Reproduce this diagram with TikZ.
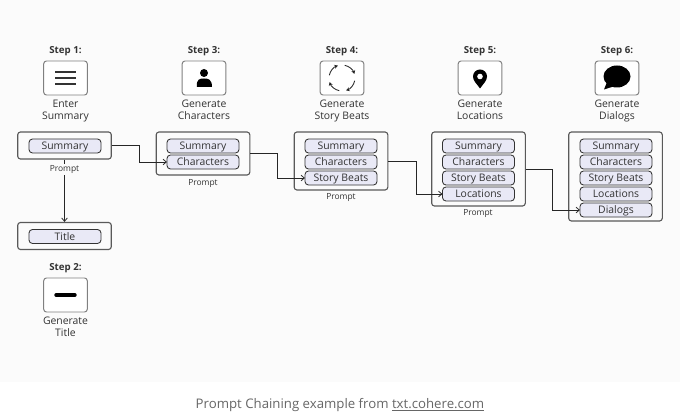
\documentclass[tikz,border=0pt]{standalone}
\usepackage{fontspec}
\setmainfont{Open Sans}
\usepackage{tikz}
\usetikzlibrary{arrows.meta,positioning,calc}
\usepackage{xcolor}
\definecolor{panelbg}{HTML}{FBFBFB}
\definecolor{pillfill}{HTML}{E9E9F6}
\definecolor{inkdark}{HTML}{333333}
\tikzset{
  stepname/.style={font=\fontsize{6.9}{8.6}\selectfont\bfseries, text=inkdark, inner sep=0pt, anchor=base},
  stepdesc/.style={font=\fontsize{7.4}{8.9}\selectfont, text=inkdark, align=center, inner sep=0pt, anchor=north},
  iconbox/.style={draw=black!50, fill=white, rounded corners=2pt, line width=0.7pt, minimum width=1.09cm, minimum height=0.85cm, inner sep=0pt},
  promptbox/.style={draw=black!65, rounded corners=2pt, line width=0.8pt, minimum width=2.34cm, inner sep=0pt},
  pill/.style={draw=inkdark, fill=pillfill, rounded corners=2.5pt, line width=0.6pt, minimum width=1.8cm, minimum height=0.35cm, inner sep=0pt, outer sep=0pt, text height=5.3pt, text depth=0pt, font=\fontsize{7.4}{8.6}\selectfont, text=inkdark},
  pillnext/.style={pill, below=0.05cm of #1},
  promptlabel/.style={font=\fontsize{6}{7}\selectfont, text=inkdark, fill=panelbg, inner sep=1pt, text height=4.4pt, text depth=1.3pt},
  chainarrow/.style={-{Straight Barb[length=2.4pt,width=4pt]}, line width=0.55pt, black!85},
}
\begin{document}
\begin{tikzpicture}[x=0.025cm,y=-0.025cm]
  \useasboundingbox (0,0) rectangle (680,413);
  \fill[panelbg] (0,0) rectangle (680,382);

  % step headers
  \node[stepname] (n1) at (65.5,53.5) {Step 1:};
  \node[stepname] (n3) at (204,53.5) {Step 3:};
  \node[stepname] (n4) at (342,53.5) {Step 4:};
  \node[stepname] (n5) at (480,53.5) {Step 5:};
  \node[stepname] (n6) at (617,53.5) {Step 6:};
  \node[stepname] (n2) at (65.5,270.5) {Step 2:};

  \node[iconbox] (i1) at (65.5,78) {};
  \node[iconbox] (i3) at (204,78) {};
  \node[iconbox] (i4) at (342,78) {};
  \node[iconbox] (i5) at (480,78) {};
  \node[iconbox] (i6) at (617,78) {};
  \node[iconbox] (i2) at (65.5,295) {};

  \node[stepdesc] (d1) at (65.5,99.5) {Enter\\Summary};
  \node[stepdesc] (d3) at (204,99.5) {Generate\\Characters};
  \node[stepdesc] (d4) at (342,99.5) {Generate\\Story Beats};
  \node[stepdesc] (d5) at (480,99.5) {Generate\\Locations};
  \node[stepdesc] (d6) at (617,99.5) {Generate\\Dialogs};
  \node[stepdesc] (d2) at (65.5,316.5) {Generate\\Title};

  % icons
  \foreach \y in {72,78,84}
    \draw[line width=0.8pt, black!80] (55,\y) -- (76,\y);
  \fill[black] (204,73) circle (4);
  \fill[black] (197,87) .. controls (196,79) and (200,78.5) .. (204,78.5)
    .. controls (208,78.5) and (212,79) .. (212,87) -- cycle;
  \draw[line width=2.4pt, black, line cap=round] (56,295) -- (75,295);
  \foreach \a in {0,90,180,270}
    \draw[-{Stealth[length=2.6pt,width=2.8pt]}, line width=0.6pt, black!85]
      ($(342,78)+(\a+12:13)$) arc[start angle=\a+12, end angle=\a+72, radius=13];
  \fill[black] (480,88.5) .. controls (477,84) and (473,81) .. (473,76.5)
    arc[start angle=180, end angle=0, radius=0.175cm]
    .. controls (487,81) and (483,84) .. (480,88.5) -- cycle;
  \fill[white] (480,76.5) circle (2.8);
  \fill[black] (617,76.5) ellipse[x radius=13.5, y radius=11];
  \fill[black] (607,82) -- (604,89.5) -- (615,86) -- cycle;

  % prompts
  \node[promptbox, minimum height=0.675cm] (b1) at (64.5,145.5) {};
  \node[pill] (s1a) at (65,146) {Summary};

  \node[promptbox, minimum height=0.675cm] (b2) at (64.5,236) {};
  \node[pill] (s2a) at (65,236.5) {Title};

  \node[promptbox, minimum height=1.075cm] (b3) at (203,153.5) {};
  \node[pill] (s3a) at (203,146) {Summary};
  \node[pillnext=s3a] (s3b) {Characters};

  \node[promptbox, minimum height=1.45cm] (b4) at (341,161) {};
  \node[pill] (s4a) at (341,146) {Summary};
  \node[pillnext=s4a] (s4b) {Characters};
  \node[pillnext=s4b] (s4c) {Story Beats};

  \node[promptbox, minimum height=1.85cm] (b5) at (478.5,169) {};
  \node[pill] (s5a) at (478.5,146) {Summary};
  \node[pillnext=s5a] (s5b) {Characters};
  \node[pillnext=s5b] (s5c) {Story Beats};
  \node[pillnext=s5c] (s5d) {Locations};

  \node[promptbox, minimum height=2.225cm] (b6) at (615.5,176.5) {};
  \node[pill] (s6a) at (616,146) {Summary};
  \node[pillnext=s6a] (s6b) {Characters};
  \node[pillnext=s6b] (s6c) {Story Beats};
  \node[pillnext=s6c] (s6d) {Locations};
  \node[pillnext=s6d] (s6e) {Dialogs};

  % chain
  \draw[chainarrow] (b1) -- (b2);
  \draw[chainarrow] (b1.east) -- ++(28,0) |- (s3b.west);
  \draw[chainarrow] (b3.east) -- ++(27,0) |- (s4c.west);
  \draw[chainarrow] (b4.east) -- ++(28,0) |- (s5d.west);
  \draw[chainarrow] (b5.east) -- ++(27,0) |- (s6e.west);

  \node[promptlabel] (p1) at (64.5,169.5) {Prompt};
  \node[promptlabel] (p3) at (203,183.5) {Prompt};
  \node[promptlabel] (p4) at (341,197.5) {Prompt};
  \node[promptlabel] (p5) at (478,213.5) {Prompt};

  \node[font=\fontsize{9.4}{11}\selectfont, text=black!60, inner sep=0pt, anchor=base] (caption) at (340,408.5) {Prompt Chaining example from \underline{txt.cohere.com}};
\end{tikzpicture}
\end{document}
